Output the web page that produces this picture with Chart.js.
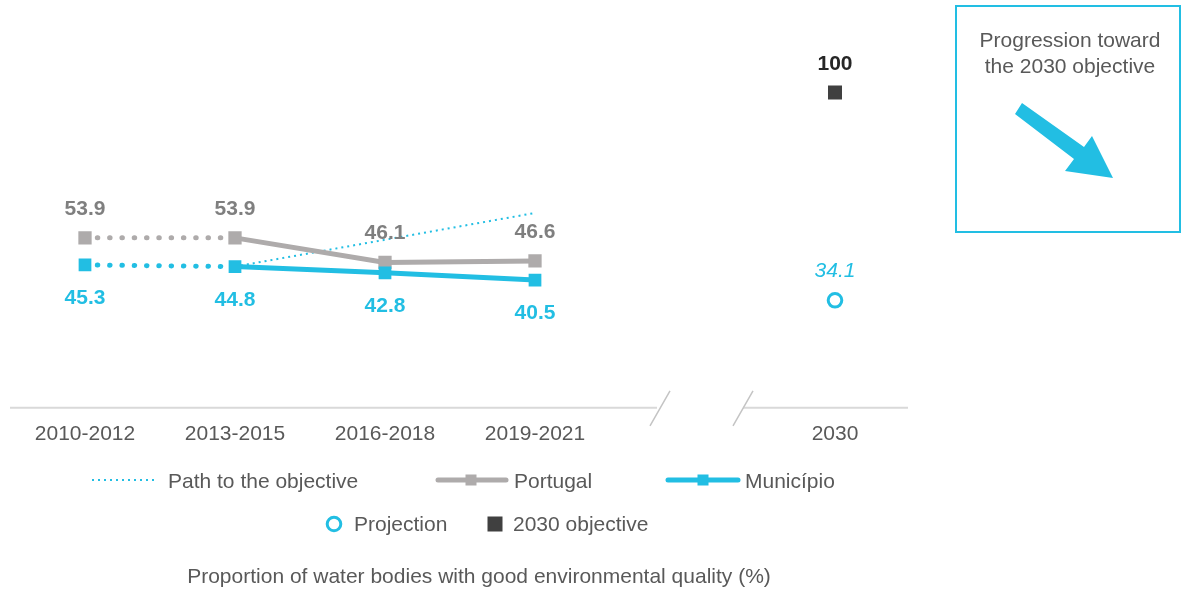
<!DOCTYPE html>
<html>
<head>
<meta charset="utf-8">
<script src="https://cdn.jsdelivr.net/npm/chart.js@4.4.1/dist/chart.umd.min.js"></script>
<style>
  html, body { margin: 0; padding: 0; background: #fff; }
  #wrap { width: 1181px; height: 592px; position: relative; }
</style>
</head>
<body>
<div id="wrap"><canvas id="chart"></canvas></div>
<script>
// categories and values
const categories = ["2010-2012", "2013-2015", "2016-2018", "2019-2021", "", "2030"];
const portugal = [53.9, 53.9, 46.1, 46.6, null, null];
const municipio = [45.3, 44.8, 42.8, 40.5, null, null];
const pathToObjective = [null, 44.8, 53.3, 61.8, null, null];
const projection = [null, null, null, null, null, 34.1];
const objective2030 = [null, null, null, null, null, 100];

const boxLines = ["Progression toward", "the 2030 objective"];
const chartTitle = "Proportion of water bodies with good environmental quality (%)";

const CYAN = "#22BEE3";
const GRAY_LINE = "#AEABAB";
const GRAY_TEXT = "#7F7F7F";
const DARK = "#404040";
const TEXT = "#595959";
const FONT = "'Liberation Sans', Arial, sans-serif";

// first segment (2010-2012 -> 2013-2015) is dotted
const dottedFirst = {
  borderDash: ctx => ctx.p0DataIndex === 0 ? [0.5, 11.8] : undefined,
  borderWidth: ctx => ctx.p0DataIndex === 0 ? 5 : undefined,
  borderCapStyle: ctx => ctx.p0DataIndex === 0 ? "round" : undefined
};

// value labels above / below each point
const valueLabels = {
  id: "valueLabels",
  afterDatasetsDraw(chart) {
    const ctx = chart.ctx;
    chart.data.datasets.forEach((ds, i) => {
      if (!ds.valueLabel) return;
      const meta = chart.getDatasetMeta(i);
      ctx.save();
      ctx.font = ds.valueLabel.font;
      ctx.fillStyle = ds.valueLabel.color;
      ctx.textAlign = "center";
      ctx.textBaseline = "alphabetic";
      meta.data.forEach((pt, j) => {
        const v = ds.data[j];
        if (v == null || pt.skip) return;
        const dy = ds.valueLabel.pos === "above" ? -23 : 39;
        ctx.fillText(String(v), pt.x, pt.y + dy);
      });
      ctx.restore();
    });
  }
};

// broken x axis line, legend, title and the side box
const decorations = {
  id: "decorations",
  afterDraw(chart) {
    const ctx = chart.ctx;
    const x = chart.scales.x, y = chart.scales.y;
    const y0 = y.getPixelForValue(0);
    const xb = x.getPixelForValue(4);

    ctx.save();
    ctx.strokeStyle = "#D9D9D9";
    ctx.lineWidth = 2;
    ctx.beginPath();
    ctx.moveTo(x.left, y0); ctx.lineTo(xb - 28, y0);
    ctx.moveTo(xb + 58, y0); ctx.lineTo(x.right - 2, y0);
    ctx.stroke();
    ctx.strokeStyle = "#C4C4C4";
    ctx.lineWidth = 1.5;
    ctx.beginPath();
    ctx.moveTo(xb - 35, y0 + 18); ctx.lineTo(xb - 15, y0 - 17);
    ctx.moveTo(xb + 48, y0 + 18); ctx.lineTo(xb + 68, y0 - 17);
    ctx.stroke();

    // legend
    ctx.font = "21px " + FONT;
    ctx.fillStyle = TEXT;
    ctx.textBaseline = "alphabetic";
    ctx.textAlign = "left";
    const r1 = 480, r2 = 524;

    ctx.strokeStyle = CYAN;
    ctx.lineWidth = 2;
    ctx.setLineDash([2, 4]);
    ctx.beginPath(); ctx.moveTo(92, r1); ctx.lineTo(156, r1); ctx.stroke();
    ctx.setLineDash([]);
    ctx.fillText("Path to the objective", 168, r1 + 8);

    ctx.lineCap = "round";
    ctx.lineWidth = 5;
    ctx.strokeStyle = GRAY_LINE;
    ctx.beginPath(); ctx.moveTo(438, r1); ctx.lineTo(506, r1); ctx.stroke();
    ctx.fillStyle = GRAY_LINE;
    ctx.fillRect(471 - 5.5, r1 - 5.5, 11, 11);
    ctx.fillStyle = TEXT;
    ctx.fillText("Portugal", 514, r1 + 8);

    ctx.strokeStyle = CYAN;
    ctx.beginPath(); ctx.moveTo(668, r1); ctx.lineTo(738, r1); ctx.stroke();
    ctx.fillStyle = CYAN;
    ctx.fillRect(703 - 5.5, r1 - 5.5, 11, 11);
    ctx.fillStyle = TEXT;
    ctx.fillText("Município", 745, r1 + 8);
    ctx.lineCap = "butt";

    ctx.strokeStyle = CYAN;
    ctx.lineWidth = 3;
    ctx.beginPath(); ctx.arc(334, r2, 6.8, 0, Math.PI * 2); ctx.stroke();
    ctx.fillText("Projection", 354, r2 + 7);
    ctx.fillStyle = DARK;
    ctx.fillRect(495 - 7.5, r2 - 7.5, 15, 15);
    ctx.fillStyle = TEXT;
    ctx.fillText("2030 objective", 513, r2 + 7);

    ctx.textAlign = "center";
    ctx.fillText(chartTitle, 479, 583);

    // side box
    ctx.strokeStyle = CYAN;
    ctx.lineWidth = 2;
    ctx.strokeRect(956, 6, 1180 - 956, 226);
    ctx.fillStyle = TEXT;
    ctx.fillText(boxLines[0], 1070, 47);
    ctx.fillText(boxLines[1], 1070, 73);
    ctx.fillStyle = CYAN;
    ctx.beginPath();
    ctx.moveTo(1015, 114);
    ctx.lineTo(1022, 103);
    ctx.lineTo(1084, 147);
    ctx.lineTo(1092, 136);
    ctx.lineTo(1113, 178);
    ctx.lineTo(1065, 171);
    ctx.lineTo(1074, 159);
    ctx.closePath();
    ctx.fill();
    ctx.restore();
  }
};

new Chart(document.getElementById("chart"), {
  type: "line",
  data: {
    labels: categories,
    datasets: [
      {
        label: "2030 objective",
        data: objective2030,
        showLine: false,
        pointStyle: "rect",
        pointRadius: 9.9,
        pointBackgroundColor: DARK,
        pointBorderWidth: 0,
        order: 0,
        valueLabel: { pos: "above", color: "#262626", font: "bold 21px " + FONT }
      },
      {
        label: "Projection",
        data: projection,
        showLine: false,
        pointStyle: "circle",
        pointRadius: 6.8,
        pointBorderWidth: 3,
        pointBorderColor: CYAN,
        pointBackgroundColor: "#fff",
        order: 1,
        valueLabel: { pos: "above", color: CYAN, font: "italic 21px " + FONT }
      },
      {
        label: "Município",
        data: municipio,
        borderColor: CYAN,
        borderWidth: 5,
        pointStyle: "rect",
        pointRadius: 9,
        pointBackgroundColor: CYAN,
        pointBorderWidth: 0,
        segment: dottedFirst,
        order: 2,
        valueLabel: { pos: "below", color: CYAN, font: "bold 21px " + FONT }
      },
      {
        label: "Portugal",
        data: portugal,
        borderColor: GRAY_LINE,
        borderWidth: 5,
        pointStyle: "rect",
        pointRadius: 9.4,
        pointBackgroundColor: GRAY_LINE,
        pointBorderWidth: 0,
        segment: dottedFirst,
        order: 3,
        valueLabel: { pos: "above", color: GRAY_TEXT, font: "bold 21px " + FONT }
      },
      {
        label: "Path to the objective",
        data: pathToObjective,
        borderColor: CYAN,
        borderWidth: 2,
        borderDash: [2, 4],
        pointRadius: 0,
        order: 4
      }
    ]
  },
  options: {
    responsive: true,
    maintainAspectRatio: false,
    animation: false,
    spanGaps: false,
    layout: { padding: { left: 10, right: 271, top: 61, bottom: 131 } },
    plugins: {
      legend: { display: false },
      tooltip: { enabled: false },
      title: { display: false }
    },
    scales: {
      x: {
        offset: true,
        grid: { display: false, drawTicks: false },
        border: { display: false },
        ticks: {
          padding: 14,
          color: TEXT,
          font: { family: FONT, size: 21 },
          maxRotation: 0,
          autoSkip: false
        }
      },
      y: {
        display: false,
        min: 0,
        max: 110
      }
    }
  },
  plugins: [valueLabels, decorations]
});
</script>
</body>
</html>
